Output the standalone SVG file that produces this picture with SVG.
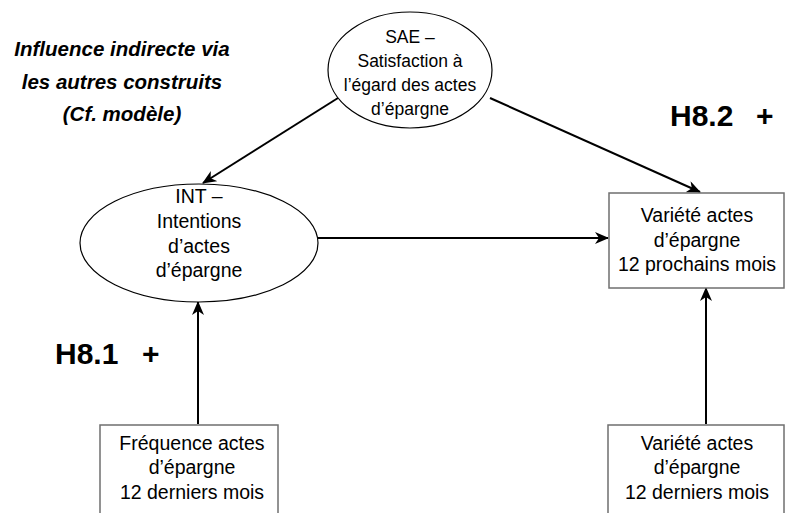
<svg xmlns="http://www.w3.org/2000/svg" width="795" height="513" viewBox="0 0 795 513">
<style>
.t{font-family:"Liberation Sans",Arial,sans-serif;font-size:19.5px;fill:#000;text-anchor:middle}
.s{font-size:17.5px}
.h{font-family:"Liberation Sans",Arial,sans-serif;font-weight:bold;font-size:30px;fill:#000}
.it{font-family:"Liberation Sans",Arial,sans-serif;font-weight:bold;font-style:italic;font-size:20.5px;fill:#000;text-anchor:middle}
.el{fill:#fff;stroke:#000;stroke-width:1.2}
.bx{fill:#fff;stroke:#6f6f6f;stroke-width:1.5}
.cn{stroke:#000;stroke-width:2;fill:none;marker-end:url(#ah)}
</style>
<defs>
<marker id="ah" markerUnits="userSpaceOnUse" markerWidth="14" markerHeight="12" refX="13" refY="6" orient="auto">
<path d="M0,0 L14,6 L0,12 L4,6 z" fill="#000"/>
</marker>
</defs>
<rect width="795" height="513" fill="#fff"/>
<g id="note">
<text class="it" x="122" y="56">Influence indirecte via</text>
<text class="it" x="122" y="89">les autres construits</text>
<text class="it" x="122" y="121">(Cf. modèle)</text>
</g>
<g id="h82"><text class="h" x="670" y="126">H8.2</text><text class="h" x="756" y="126">+</text></g>
<g id="h81"><text class="h" x="55" y="364">H8.1</text><text class="h" x="142" y="364">+</text></g>
<g id="connectors">
<line class="cn" x1="338" y1="98" x2="203" y2="183"/>
<line class="cn" x1="490" y1="98" x2="700" y2="192"/>
<line class="cn" x1="318" y1="238" x2="608" y2="238"/>
<line class="cn" x1="198" y1="424" x2="198" y2="302"/>
<line class="cn" x1="706" y1="424" x2="706" y2="288"/>
</g>
<g id="sae">
<ellipse class="el" cx="410" cy="70" rx="82" ry="58"/>
<text class="t s" x="410" y="43">SAE –</text>
<text class="t s" x="410" y="67">Satisfaction à</text>
<text class="t s" x="410" y="91">l’égard des actes</text>
<text class="t s" x="410" y="115">d’épargne</text>
</g>
<g id="int">
<ellipse class="el" cx="199" cy="243" rx="119" ry="59"/>
<text class="t" x="199" y="203">INT –</text>
<text class="t" x="199" y="228">Intentions</text>
<text class="t" x="199" y="253">d’actes</text>
<text class="t" x="199" y="277">d’épargne</text>
</g>
<g id="var12p">
<rect class="bx" x="609" y="193" width="175" height="95"/>
<text class="t" x="697" y="222">Variété actes</text>
<text class="t" x="697" y="247">d’épargne</text>
<text class="t" x="697" y="271">12 prochains mois</text>
</g>
<g id="freq12d">
<rect class="bx" x="100" y="425" width="178" height="100"/>
<text class="t" x="192" y="450">Fréquence actes</text>
<text class="t" x="192" y="474">d’épargne</text>
<text class="t" x="192" y="499">12 derniers mois</text>
</g>
<g id="var12d">
<rect class="bx" x="608" y="425" width="176" height="100"/>
<text class="t" x="697" y="450">Variété actes</text>
<text class="t" x="697" y="474">d’épargne</text>
<text class="t" x="697" y="499">12 derniers mois</text>
</g>
</svg>
